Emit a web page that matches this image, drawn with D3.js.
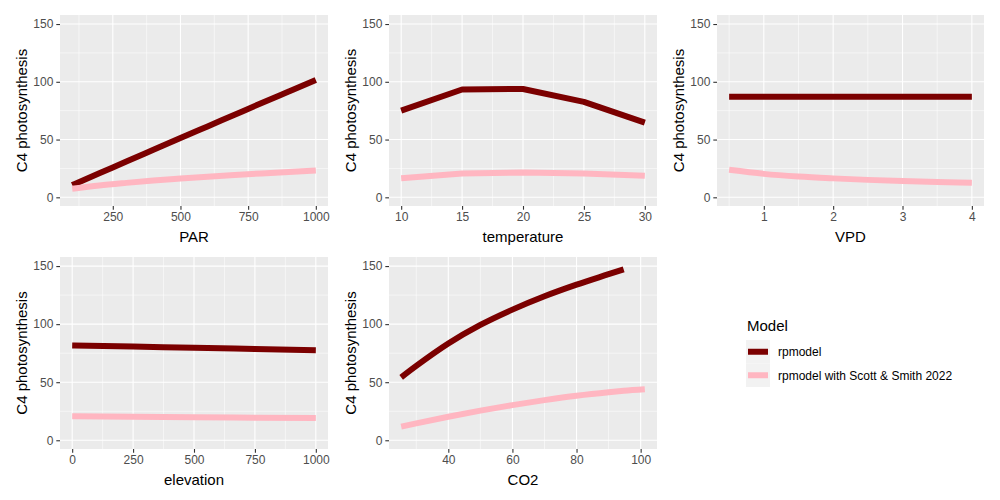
<!DOCTYPE html>
<html><head><meta charset="utf-8">
<script src="https://cdn.jsdelivr.net/npm/d3@7"></script>
<style>
body{margin:0;background:#fff;}
svg{display:block;font-family:"Liberation Sans",Arial,Helvetica,sans-serif;}
</style></head>
<body><svg id="chart" width="1000" height="500"></svg>
<script>
// ---- data ----
const seriesNames = ["rpmodel", "rpmodel with Scott & Smith 2022"];
const yTicks = [0, 50, 100, 150];

const parX  = [100, 200, 300, 400, 500, 600, 700, 800, 900, 1000];
const parRp = [10.6, 20.8, 30.9, 41.1, 51.3, 61.4, 71.5, 81.6, 91.6, 101.6];
const parSS = [7.5, 10.3, 12.5, 14.5, 16.2, 17.8, 19.3, 20.7, 22.0, 23.2];
const parTicks = [250, 500, 750, 1000];

const tempX  = [10, 15, 20, 25, 30];
const tempRp = [75.0, 93.3, 93.8, 82.6, 64.6];
const tempSS = [16.6, 20.6, 21.4, 20.7, 18.7];
const tempTicks = [10, 15, 20, 25, 30];

const vpdX  = [0.5, 1.0, 1.5, 2.0, 2.5, 3.0, 3.5, 4.0];
const vpdRp = [87.1, 87.1, 87.1, 87.1, 87.1, 87.1, 87.1, 87.1];
const vpdSS = [23.8, 20.3, 18.0, 16.4, 15.1, 14.1, 13.3, 12.6];
const vpdTicks = [1, 2, 3, 4];

const elevX  = [0, 250, 500, 750, 1000];
const elevRp = [81.7, 80.7, 79.6, 78.6, 77.6];
const elevSS = [20.6, 20.2, 19.9, 19.5, 19.1];
const elevTicks = [0, 250, 500, 750, 1000];

const co2X  = [25.3, 30, 40, 50, 60, 70, 80, 90, 94.7, 101.3];
const co2Rp = [54.2, 64.0, 83.3, 99.3, 112.5, 124.0, 134.0, 143.0, 147.2, null];
const co2SS = [11.8, 14.6, 20.2, 25.5, 30.3, 34.6, 38.4, 41.4, 42.6, 43.9];
const co2Ticks = [40, 60, 80, 100];

// ---- layout / style ----
const colors = ["#7B0000", "#FFB6C1"];
const svg = d3.select("#chart");

const panels = [
  {label:"PAR", x:parX, s:[parRp, parSS], ticks:parTicks, curve:d3.curveMonotoneX, rect:[60,15,328,206]},
  {label:"temperature", x:tempX, s:[tempRp, tempSS], ticks:tempTicks, curve:d3.curveLinear, rect:[389,15,657,206]},
  {label:"VPD", x:vpdX, s:[vpdRp, vpdSS], ticks:vpdTicks, curve:d3.curveMonotoneX, rect:[717,15,984,206]},
  {label:"elevation", x:elevX, s:[elevRp, elevSS], ticks:elevTicks, curve:d3.curveMonotoneX, rect:[60,257,328,449]},
  {label:"CO2", x:co2X, s:[co2Rp, co2SS], ticks:co2Ticks, curve:d3.curveMonotoneX, rect:[389,257,657,449]}
];

function minorBreaks(ticks, dom) {
  const step = ticks[1] - ticks[0];
  const out = [];
  const all = [ticks[0] - step].concat(ticks);
  for (let i = 0; i < all.length; i++) {
    const m = all[i] + step / 2;
    if (m >= dom[0] && m <= dom[1]) out.push(m);
  }
  return out;
}

const yData = [];
panels.forEach(p => p.s.forEach(a => a.forEach(v => { if (v != null) yData.push(v); })));
const yExt = [Math.min(0, d3.min(yData)), 150.3];
const yPad = (yExt[1] - yExt[0]) * 0.05;
const yDom = [yExt[0] - yPad, yExt[1] + yPad];

panels.forEach(p => {
  const [x0, y0, x1, y1] = p.rect;
  const ext = d3.extent(p.x);
  const pad = (ext[1] - ext[0]) * 0.05;
  const xDom = [ext[0] - pad, ext[1] + pad];
  const x = d3.scaleLinear().domain(xDom).range([x0, x1]);
  const y = d3.scaleLinear().domain(yDom).range([y1, y0]);
  const g = svg.append("g");

  g.append("rect").attr("x", x0).attr("y", y0).attr("width", x1 - x0).attr("height", y1 - y0).attr("fill", "#EBEBEB");

  minorBreaks(p.ticks, xDom).forEach(v => g.append("line")
    .attr("x1", x(v)).attr("x2", x(v)).attr("y1", y0).attr("y2", y1)
    .attr("stroke", "#fff").attr("stroke-width", 0.55));
  minorBreaks(yTicks, yDom).forEach(v => g.append("line")
    .attr("x1", x0).attr("x2", x1).attr("y1", y(v)).attr("y2", y(v))
    .attr("stroke", "#fff").attr("stroke-width", 0.55));
  p.ticks.forEach(v => g.append("line")
    .attr("x1", x(v)).attr("x2", x(v)).attr("y1", y0).attr("y2", y1)
    .attr("stroke", "#fff").attr("stroke-width", 1.1));
  yTicks.forEach(v => g.append("line")
    .attr("x1", x0).attr("x2", x1).attr("y1", y(v)).attr("y2", y(v))
    .attr("stroke", "#fff").attr("stroke-width", 1.1));

  const xa = g.append("g").attr("transform", `translate(0,${y1})`)
    .call(d3.axisBottom(x).tickValues(p.ticks).tickFormat(d3.format("d")).tickSize(3.7).tickPadding(3));
  const ya = g.append("g").attr("transform", `translate(${x0},0)`)
    .call(d3.axisLeft(y).tickValues(yTicks).tickFormat(d3.format("d")).tickSize(3.7).tickPadding(3));
  [xa, ya].forEach(a => {
    a.select(".domain").remove();
    a.selectAll(".tick line").attr("stroke", "#333333").attr("stroke-width", 1.1);
    a.selectAll(".tick text").attr("fill", "#4D4D4D").attr("font-size", 12)
      .attr("font-family", "'Liberation Sans',Arial,Helvetica,sans-serif");
  });

  p.s.forEach((vals, i) => {
    const pts = p.x.map((xv, j) => [xv, vals[j]]);
    const line = d3.line().defined(d => d[1] != null).curve(p.curve).x(d => x(d[0])).y(d => y(d[1]));
    g.append("path").datum(pts).attr("d", line)
      .attr("fill", "none").attr("stroke", colors[i]).attr("stroke-width", 6)
      .attr("stroke-linejoin", "round").attr("stroke-linecap", "butt");
  });

  g.append("text").attr("x", (x0 + x1) / 2).attr("y", y1 + 36)
    .attr("text-anchor", "middle").attr("font-size", 15).attr("fill", "#000").text(p.label);
  g.append("text").attr("transform", `translate(${x0 - 33},${(y0 + y1) / 2}) rotate(-90)`)
    .attr("text-anchor", "middle").attr("font-size", 15).attr("fill", "#000").text("C4 photosynthesis");
});

const lg = svg.append("g");
lg.append("text").attr("x", 747).attr("y", 331).attr("font-size", 15).attr("fill", "#000").text("Model");
seriesNames.forEach((name, i) => {
  const ky = 340 + i * 23.5;
  lg.append("rect").attr("x", 746).attr("y", ky).attr("width", 24).attr("height", 23.5).attr("fill", "#F2F2F2");
  lg.append("line").attr("x1", 748).attr("x2", 768).attr("y1", ky + 11.75).attr("y2", ky + 11.75)
    .attr("stroke", colors[i]).attr("stroke-width", 6);
  lg.append("text").attr("x", 778).attr("y", ky + 16).attr("font-size", 12).attr("fill", "#000").text(name);
});
</script></body></html>
